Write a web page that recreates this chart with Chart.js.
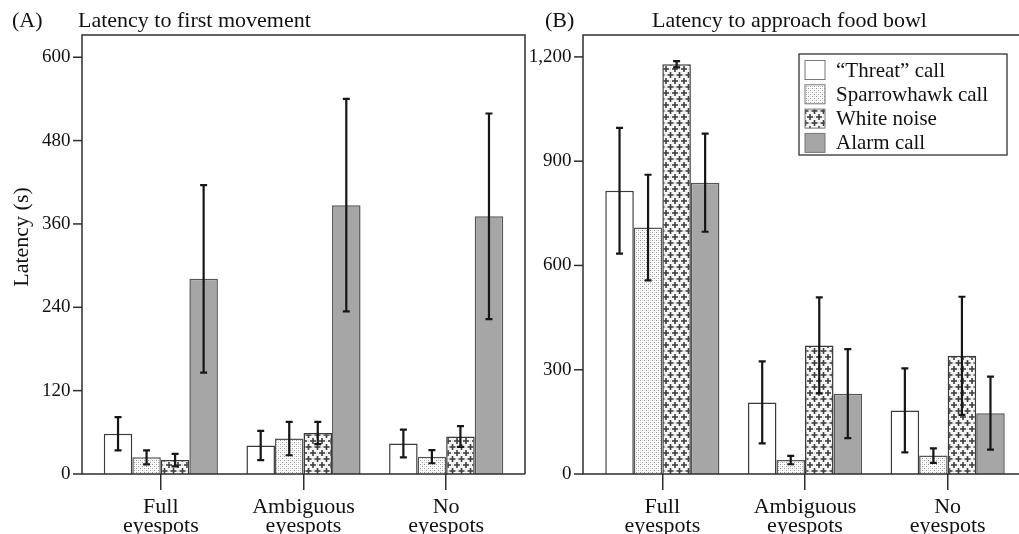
<!DOCTYPE html>
<html><head><meta charset="utf-8">
<script src="https://cdn.jsdelivr.net/npm/chart.js@4.4.0/dist/chart.umd.min.js"></script>
<style>
html,body{margin:0;padding:0;background:#fff;overflow:hidden;width:1019px;height:534px}
#wa{position:absolute;left:0;top:0;width:528px;height:534px}
#wb{position:absolute;left:524px;top:0;width:495px;height:534px}
</style></head><body>
<div id="wa"><canvas id="ca"></canvas></div>
<div id="wb"><canvas id="cb"></canvas></div>
<script>
// ---- data ----
const categories = [["Full","eyespots"],["Ambiguous","eyespots"],["No","eyespots"]];
const seriesNames = ["\u201CThreat\u201D call","Sparrowhawk call","White noise","Alarm call"];

// Panel A: latency to first movement (s)
const threatA  = [58, 41, 44];
const sparrowA = [24, 51, 25];
const noiseA   = [20, 59, 54];
const alarmA   = [281, 387, 371];
const threatErrA  = [24, 21, 20];
const sparrowErrA = [10, 24, 9.5];
const noiseErrA   = [9, 16, 15];
const alarmErrA   = [135, 153, 148];
const yTicksA = [0, 120, 240, 360, 480, 600];

// Panel B: latency to approach food bowl (s)
const threatB  = [815, 206, 183];
const sparrowB = [709, 40, 53];
const noiseB   = [1179, 370, 340];
const alarmB   = [838, 231, 175];
const threatErrB  = [181, 118, 121];
const sparrowErrB = [152, 12, 21];
const noiseErrB   = [9, 138, 170];
const alarmErrB   = [141, 128, 105];
const yTicksB = [0, 300, 600, 900, 1200];

const FONT = "'Liberation Serif', 'Times New Roman', serif";

// ---- fill patterns ----
function makeStipple(){
  const c=document.createElement('canvas'); c.width=4; c.height=4;
  const g=c.getContext('2d');
  g.fillStyle='#fff'; g.fillRect(0,0,4,4);
  g.fillStyle='#999999'; g.fillRect(0,0,1,1); g.fillRect(2,2,1,1);
  g.fillStyle='#d6d6d6'; g.fillRect(2,0,1,1); g.fillRect(0,2,1,1);
  return g.createPattern(c,'repeat');
}
function makePlus(){
  const w=9,h=12;
  const c=document.createElement('canvas'); c.width=w; c.height=h;
  const g=c.getContext('2d');
  g.fillStyle='#f6f6f6'; g.fillRect(0,0,w,h);
  g.fillStyle='#404040';
  const plus=(cx,cy)=>{ g.fillRect(cx-3,cy-0.8,6,1.6); g.fillRect(cx-0.8,cy-3,1.6,6); };
  plus(2.5,3); plus(7,9);
  plus(7-9,9); plus(2.5+9,3); plus(7,9-12); plus(2.5,3+12);
  g.fillStyle='#b8b8b8';
  g.fillRect(6.5,2.5,1,1); g.fillRect(2,8.5,1,1);
  return g.createPattern(c,'repeat');
}
const stipple = makeStipple();
const plusPat = makePlus();

function datasets(vals, errs){
  const styles = [
    {bg:'#ffffff', bd:'#3a3a3a'},
    {bg:stipple,  bd:'#555555'},
    {bg:plusPat,  bd:'#3a3a3a'},
    {bg:'#a6a6a6', bd:'#555555'}
  ];
  return vals.map((v,i)=>({
    label: seriesNames[i], data: v, err: errs[i],
    backgroundColor: styles[i].bg, borderColor: styles[i].bd,
    borderWidth: 1.5, categoryPercentage: 0.8, barPercentage: 1.0
  }));
}

// ---- plugins ----
const framePlugin = {
  id:'frame',
  afterDraw(chart, args, o){
    const {ctx, chartArea:a} = chart;
    const ys = chart.scales.y;
    const L = a.left - o.ext, R = a.right + o.ext;
    ctx.save();
    ctx.strokeStyle='#2e2e2e'; ctx.lineWidth=1.5;
    ctx.beginPath();
    ctx.moveTo(R, ys.getPixelForValue(0)); ctx.lineTo(L, ys.getPixelForValue(0));
    ctx.lineTo(L, a.top); ctx.lineTo(R, a.top);
    if (o.right) ctx.lineTo(R, ys.getPixelForValue(0));
    ctx.stroke();
    ys.ticks.forEach(t=>{
      const y = ys.getPixelForValue(t.value);
      ctx.beginPath(); ctx.moveTo(L-9,y); ctx.lineTo(L,y); ctx.stroke();
    });
    ctx.restore();
  }
};
const errPlugin = {
  id:'errbars',
  afterDatasetsDraw(chart){
    const {ctx} = chart; const ys = chart.scales.y;
    ctx.save();
    ctx.strokeStyle='#161616'; ctx.lineWidth=2.2;
    chart.data.datasets.forEach((ds,i)=>{
      const meta = chart.getDatasetMeta(i);
      meta.data.forEach((bar,j)=>{
        const v = ds.data[j], e = ds.err[j];
        const yt = ys.getPixelForValue(v+e), yb = ys.getPixelForValue(v-e);
        ctx.beginPath();
        ctx.moveTo(bar.x, yt); ctx.lineTo(bar.x, yb);
        ctx.moveTo(bar.x-3.5, yt); ctx.lineTo(bar.x+3.5, yt);
        ctx.moveTo(bar.x-3.5, yb); ctx.lineTo(bar.x+3.5, yb);
        ctx.stroke();
      });
    });
    ctx.restore();
  }
};
const titlePlugin = {
  id:'ptitle',
  afterDraw(chart, args, o){
    const {ctx} = chart;
    ctx.save();
    ctx.fillStyle='#111'; ctx.font = '22px '+FONT; ctx.textBaseline='alphabetic';
    ctx.textAlign='left';
    ctx.fillText(o.tag, o.tagX, o.base);
    ctx.fillText(o.text, o.textX, o.base);
    if (o.ytitle) {
      ctx.translate(o.ytitleX, o.ytitleY);
      ctx.rotate(-Math.PI/2);
      ctx.textAlign='center'; ctx.textBaseline='middle';
      ctx.fillText(o.ytitle, 0, 0);
    }
    ctx.restore();
  }
};
const legendPlugin = {
  id:'boxlegend',
  afterDraw(chart, args, o){
    if(!o.show) return;
    const {ctx, chartArea:a} = chart;
    const R = a.right - 12, T = a.top + 19, W = 208, H = 101;
    const L = R - W;
    ctx.save();
    ctx.fillStyle='#fff'; ctx.fillRect(L,T,W,H);
    ctx.strokeStyle='#333'; ctx.lineWidth=1.3; ctx.strokeRect(L,T,W,H);
    ctx.font='21px '+FONT; ctx.textBaseline='alphabetic'; ctx.textAlign='left';
    chart.data.datasets.forEach((ds,i)=>{
      const y = T + 6.5 + i*24.3;
      ctx.fillStyle = ds.backgroundColor; ctx.fillRect(L+6, y, 20, 19);
      ctx.strokeStyle = '#777'; ctx.lineWidth=1; ctx.strokeRect(L+6, y, 20, 19);
      ctx.fillStyle='#111';
      ctx.fillText(ds.label, L+37, y+16);
    });
    ctx.restore();
  }
};

function makeChart(id, vals, errs, yTicks, yMax, opts){
  return new Chart(document.getElementById(id), {
    type:'bar',
    data:{ labels: categories, datasets: datasets(vals, errs) },
    options:{
      responsive:true, maintainAspectRatio:false, animation:false, devicePixelRatio:1,
      layout:{ padding:{ top:35, left:0, right:opts.padRight, bottom:0 } },
      plugins:{
        legend:{display:false}, tooltip:{enabled:false},
        frame:{ ext: opts.ext, right: opts.frameRight },
        ptitle: opts.title,
        boxlegend:{ show: opts.legend }
      },
      scales:{
        x:{
          offset:true,
          grid:{ display:true, offset:false, drawOnChartArea:false, drawTicks:true, tickLength:16, color:'#2e2e2e', lineWidth:1.5 },
          border:{ display:false },
          ticks:{ color:'#111', font:{ family:FONT, size:22, lineHeight:0.85 }, padding:8, maxRotation:0, autoSkip:false },
          afterFit(s){ s.height = 60; }
        },
        y:{
          min:0, max:yMax,
          grid:{ display:false, drawTicks:false, tickLength:0 },
          border:{ display:false },
          afterBuildTicks(s){ s.ticks = yTicks.map(v=>({value:v})); },
          ticks:{ color:'#111', font:{ family:FONT, size:19 }, padding: opts.ext + 11.5,
                  callback:(v)=> Number(v).toLocaleString('en-US') },
          afterFit(s){ s.width = opts.yWidth; }
        }
      }
    },
    plugins:[framePlugin, errPlugin, titlePlugin, legendPlugin]
  });
}

makeChart('ca', [threatA, sparrowA, noiseA, alarmA], [threatErrA, sparrowErrA, noiseErrA, alarmErrA],
  yTicksA, 632, { padRight:10.5, yWidth:89.5, ext:7.5, frameRight:true, legend:false,
  title:{ tag:'(A)', tagX:12, text:'Latency to first movement', textX:78, base:27,
          ytitle:'Latency (s)', ytitleX:22, ytitleY:237 } });

makeChart('cb', [threatB, sparrowB, noiseB, alarmB], [threatErrB, sparrowErrB, noiseErrB, alarmErrB],
  yTicksB, 1263, { padRight:0, yWidth:67, ext:8, frameRight:true, legend:true,
  title:{ tag:'(B)', tagX:21, text:'Latency to approach food bowl', textX:128, base:27 } });
</script>
</body></html>
